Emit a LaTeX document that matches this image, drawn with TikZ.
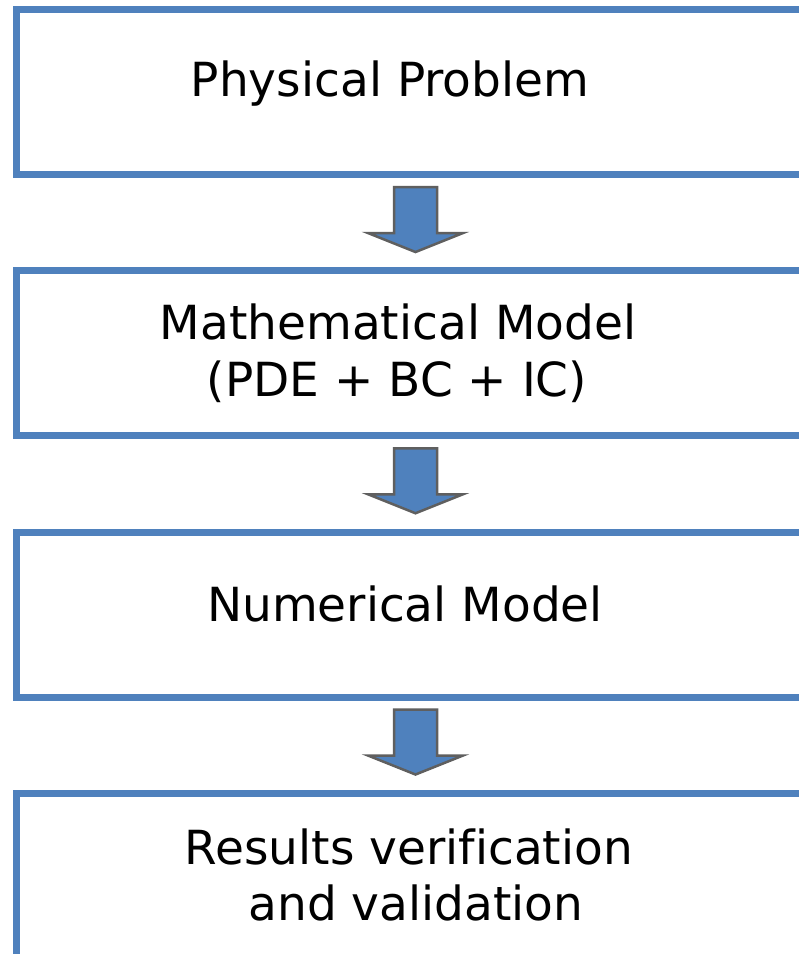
\documentclass[tikz,border=0pt]{standalone}
\usepackage{fontspec}
\setmainfont{DejaVu Sans}[Ligatures=NoCommon]
\usetikzlibrary{calc}
\definecolor{boxblue}{RGB}{79,129,189}
\definecolor{arrowedge}{RGB}{95,95,95}
\newcommand\stagearrow[2]{%
  \draw[flowarrow] ($(#1.south)!0.5!(#2.north)$) ++(-21.5,-35.5) -- ++(43,0) -- ++(0,46)
    -- ++(26,0) -- ++(-47.5,19) -- ++(-47.5,-19) -- ++(26,0) -- cycle;}
\begin{document}
\begin{tikzpicture}[x=1pt,y=-1pt,
  stagebox/.style={draw=boxblue,line width=7pt,fill=white,rectangle,
    minimum width=798pt,minimum height=165pt,inner sep=0pt},
  stagetext/.style={font=\fontsize{47}{57}\selectfont,anchor=base,inner sep=0pt,text=black},
  flowarrow/.style={fill=boxblue,draw=arrowedge,line width=2.5pt,line join=miter}]
\useasboundingbox (0,0) rectangle (799,954);
\clip (0,0) rectangle (799,954);
\fill[white] (0,0) rectangle (799,954);
\node[stagebox] (b1) at (415.5,92) {};
\node[stagebox] (b2) at (415.5,353) {};
\node[stagebox] (b3) at (415.5,614.5) {};
\node[stagebox] (b4) at (415.5,875.5) {};
\stagearrow{b1}{b2}
\stagearrow{b2}{b3}
\stagearrow{b3}{b4}
\node[stagetext] (t1) at (390,96) {Physical Problem};
\node[stagetext] (t2a) at (398,339) {Mathematical Model};
\node[stagetext] (t2b) at (397,396) {(PDE + BC + IC)};
\node[stagetext] (t3) at (405,621) {Numerical Model};
\node[stagetext] (t4a) at (409,864) {Results verification};
\node[stagetext] (t4b) at (416,920) {and validation};
\end{tikzpicture}
\end{document}
